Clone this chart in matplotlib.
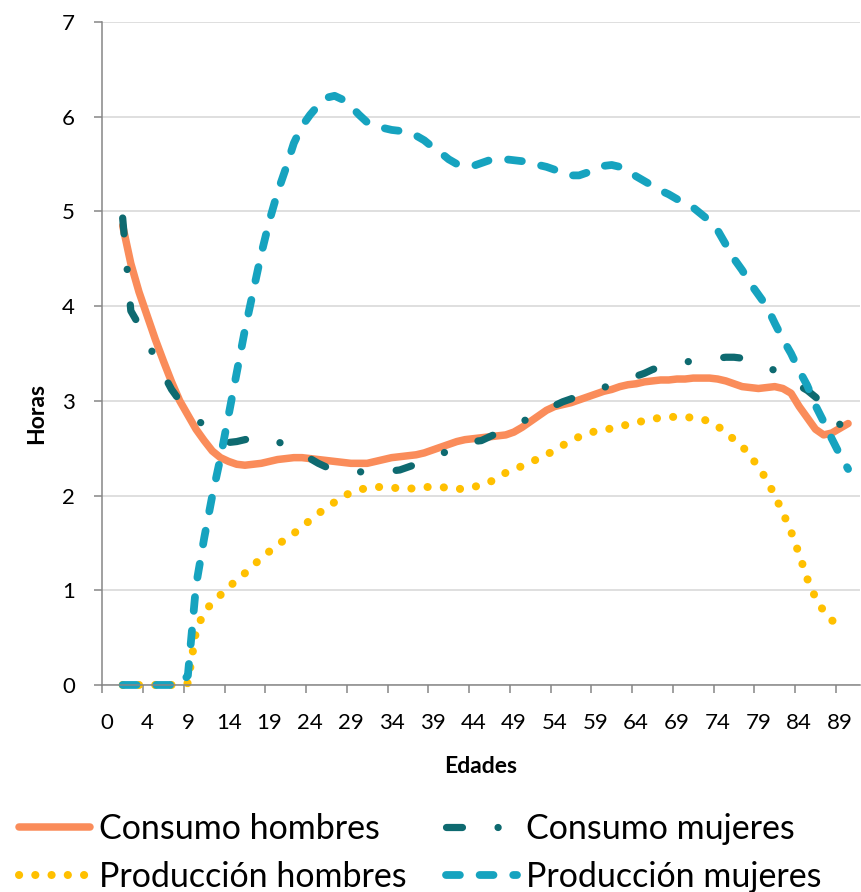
import numpy as np
import matplotlib.pyplot as plt
from matplotlib.ticker import FixedLocator

# ages 1..90 (category slots 0 and 1 of the excel axis hold no data)
edades = np.arange(1, 91)

consumo_hombres = [
    4.85, 4.45, 4.15, 3.90, 3.65, 3.42, 3.20, 3.00, 2.85, 2.70,
    2.58, 2.47, 2.40, 2.36, 2.33, 2.32, 2.33, 2.34, 2.36, 2.38,
    2.39, 2.40, 2.40, 2.39, 2.38, 2.37, 2.36, 2.35, 2.34, 2.34,
    2.34, 2.36, 2.38, 2.40, 2.41, 2.42, 2.43, 2.45, 2.48, 2.51,
    2.54, 2.57, 2.59, 2.60, 2.61, 2.62, 2.63, 2.64, 2.67, 2.72,
    2.78, 2.84, 2.90, 2.94, 2.96, 2.98, 3.01, 3.04, 3.07, 3.10,
    3.12, 3.15, 3.17, 3.18, 3.20, 3.21, 3.22, 3.22, 3.23, 3.23,
    3.24, 3.24, 3.24, 3.23, 3.21, 3.18, 3.15, 3.14, 3.13, 3.14,
    3.15, 3.13, 3.08, 2.94, 2.82, 2.70, 2.64, 2.66, 2.71, 2.76,
]
consumo_mujeres = [
    4.93, 3.95, 3.80, 3.63, 3.45, 3.28, 3.12, 3.00, 2.90, 2.81,
    2.74, 2.67, 2.61, 2.56, 2.57, 2.59, 2.61, 2.62, 2.60, 2.57,
    2.53, 2.48, 2.44, 2.39, 2.34, 2.30, 2.28, 2.26, 2.25, 2.25,
    2.25, 2.25, 2.25, 2.26, 2.27, 2.30, 2.33, 2.36, 2.40, 2.44,
    2.47, 2.50, 2.54, 2.57, 2.58, 2.62, 2.66, 2.70, 2.74, 2.78,
    2.82, 2.86, 2.91, 2.95, 2.99, 3.02, 3.06, 3.09, 3.12, 3.14,
    3.17, 3.20, 3.23, 3.26, 3.29, 3.33, 3.36, 3.37, 3.40, 3.41,
    3.42, 3.43, 3.44, 3.45, 3.46, 3.46, 3.45, 3.43, 3.40, 3.36,
    3.32, 3.27, 3.21, 3.16, 3.11, 3.04, 2.96, 2.86, 2.75, 2.64,
]
produccion_hombres = [
    0.00, 0.00, 0.00, 0.00, 0.00, 0.00, 0.00, 0.00, 0.02, 0.57,
    0.77, 0.87, 0.95, 1.03, 1.11, 1.18, 1.26, 1.34, 1.41, 1.48,
    1.54, 1.60, 1.67, 1.74, 1.81, 1.87, 1.93, 1.99, 2.03, 2.06,
    2.08, 2.09, 2.09, 2.08, 2.08, 2.07, 2.08, 2.09, 2.09, 2.09,
    2.08, 2.07, 2.07, 2.09, 2.11, 2.14, 2.19, 2.24, 2.28, 2.31,
    2.35, 2.39, 2.43, 2.48, 2.53, 2.58, 2.62, 2.65, 2.68, 2.69,
    2.71, 2.73, 2.75, 2.77, 2.79, 2.81, 2.82, 2.83, 2.83, 2.83,
    2.82, 2.81, 2.78, 2.73, 2.67, 2.59, 2.52, 2.42, 2.30, 2.17,
    2.00, 1.82, 1.62, 1.38, 1.12, 0.92, 0.78, 0.68, 0.66, 0.65,
]
produccion_mujeres = [
    0.00, 0.00, 0.00, 0.00, 0.00, 0.00, 0.00, 0.00, 0.10, 1.05,
    1.55, 2.00, 2.40, 2.85, 3.30, 3.75, 4.15, 4.55, 4.90, 5.20,
    5.45, 5.72, 5.90, 6.02, 6.12, 6.20, 6.22, 6.18, 6.11, 6.02,
    5.94, 5.90, 5.88, 5.86, 5.85, 5.83, 5.80, 5.75, 5.68, 5.62,
    5.55, 5.50, 5.48, 5.48, 5.51, 5.54, 5.55, 5.55, 5.54, 5.53,
    5.51, 5.49, 5.47, 5.44, 5.40, 5.38, 5.38, 5.41, 5.45, 5.48,
    5.49, 5.47, 5.43, 5.37, 5.32, 5.27, 5.22, 5.18, 5.13, 5.09,
    5.04, 4.97, 4.90, 4.80, 4.65, 4.50, 4.38, 4.24, 4.12, 4.00,
    3.82, 3.65, 3.50, 3.32, 3.16, 2.95, 2.78, 2.60, 2.43, 2.28,
]

# labels excel shows every 5th category slot
etiquetas = ['0', '4', '9', '14', '19', '24', '29', '34', '39', '44',
             '49', '54', '59', '64', '69', '74', '79', '84', '89']

plt.rcParams['font.family'] = ['Lato', 'DejaVu Sans']
plt.rcParams['lines.scale_dashes'] = False

fig = plt.figure(figsize=(8.61, 8.92), dpi=100)
ax = fig.add_axes([0.1188, 0.2321, 0.8804, 0.7433])

pos = edades + 1
l1, = ax.plot(pos, consumo_hombres, color='#FA8C5A', lw=5.4,
              solid_capstyle='round', solid_joinstyle='round',
              label='Consumo hombres', clip_on=False)
l2, = ax.plot(pos, consumo_mujeres, color='#0E6A70', lw=5.2,
              dashes=(11.5, 25.6, 0.1, 25.6), dash_capstyle='round',
              label='Consumo mujeres', clip_on=False)
l3, = ax.plot(pos, produccion_hombres, color='#FFC000', lw=5.8,
              dashes=(0.1, 11.6), dash_capstyle='round',
              label='Producción hombres', clip_on=False)
l4, = ax.plot(pos, produccion_mujeres, color='#16A3BF', lw=5.6,
              dashes=(10, 14.2), dash_capstyle='round',
              label='Producción mujeres', clip_on=False)

ax.set_xlim(-0.5, 92.5)
ax.set_ylim(0, 7)
ax.set_yticks(range(0, 8))
ax.set_xticks(range(0, 91, 5))
ax.set_xticklabels(etiquetas)
ax.xaxis.set_minor_locator(FixedLocator(np.arange(-0.5, 90, 5)))

ax.tick_params(axis='x', which='major', length=0, pad=20.5, labelsize=16)
ax.tick_params(axis='x', which='minor', length=5.8, width=1.1, color='#868686')
ax.tick_params(axis='y', length=5.8, width=1.1, color='#868686', pad=14, labelsize=16)

for s in ['top', 'right']:
    ax.spines[s].set_visible(False)
for s in ['left', 'bottom']:
    ax.spines[s].set_color('#868686')
    ax.spines[s].set_linewidth(1.1)

ax.yaxis.grid(True, color='#d9d9d9', lw=1.2)
ax.set_axisbelow(True)

fig.text(481 / 861, 1 - 773 / 892, 'Edades', ha='center', va='baseline',
         fontsize=16.5, fontweight='bold')
fig.text(37 / 861, 1 - 414 / 892, 'Horas', ha='center', va='center',
         rotation=90, fontsize=16.5, fontweight='bold')

fig.legend(handles=[l1, l3, l2, l4], ncol=2, loc='upper left',
           bbox_to_anchor=(19 / 861, 1 - 813 / 892), frameon=False,
           fontsize=24.5, handlelength=2.1, handletextpad=0.25,
           columnspacing=1.15, labelspacing=0.48, borderpad=0, borderaxespad=0)

fig.savefig('out.png', dpi=100)
